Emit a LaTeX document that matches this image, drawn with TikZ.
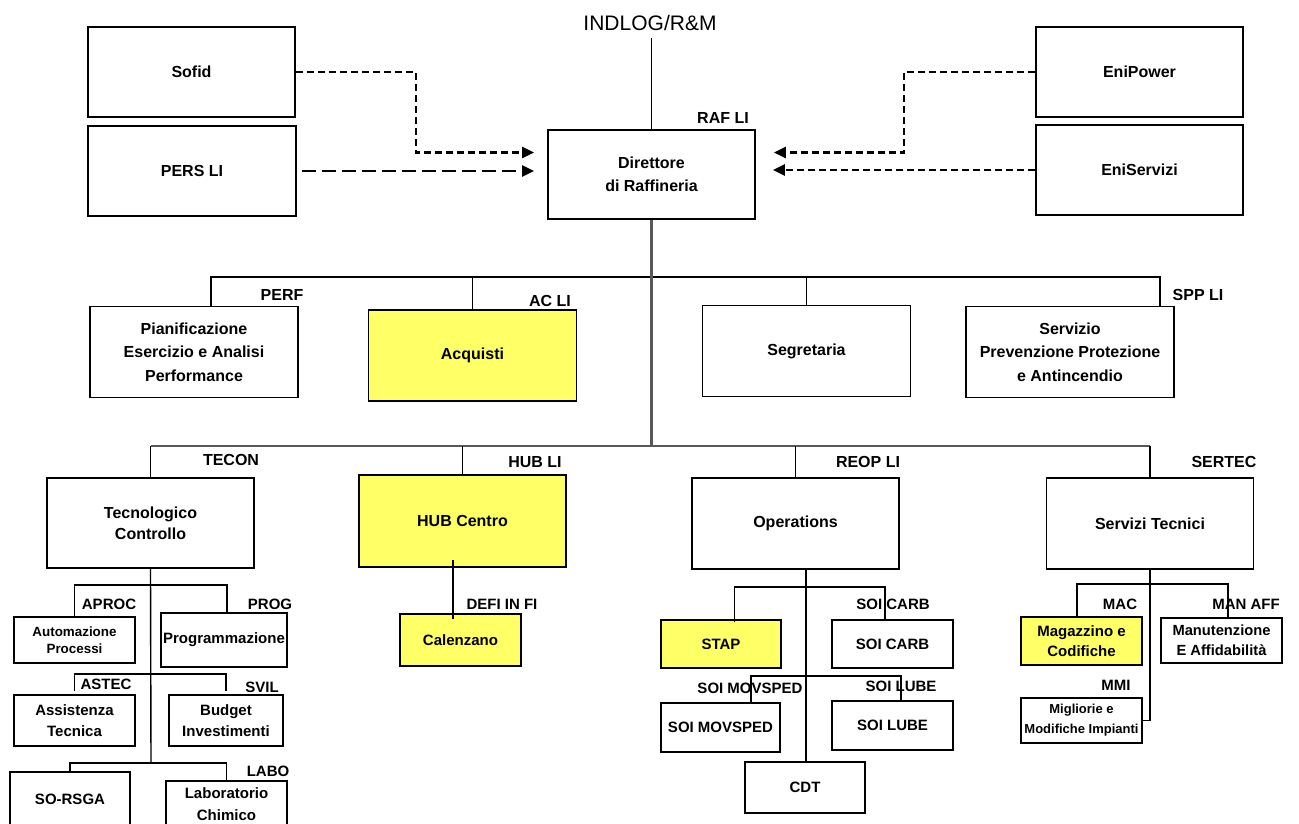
\documentclass[tikz,border=0pt]{standalone}
\usepackage{fontspec}
\setmainfont{Liberation Sans}
\usetikzlibrary{arrows.meta}
\definecolor{boxyellow}{HTML}{FFFF66}
\definecolor{trunkgray}{HTML}{595959}
\tikzstyle{big_box} = [
    rectangle,
    draw=black,
    fill=white,
    line width=1.9pt,
    align=center,
    font=\bfseries\fontsize{16}{23.5}\selectfont,
    inner sep=0pt,
    minimum width=207pt,
    minimum height=90pt
]
\tikzstyle{big_yellow} = [big_box, fill=boxyellow]
\tikzstyle{small_box} = [
    rectangle,
    draw=black,
    fill=white,
    line width=1.9pt,
    align=center,
    font=\bfseries\fontsize{15}{21}\selectfont,
    inner sep=0pt,
    minimum width=121pt,
    minimum height=48pt
]
\tikzstyle{small_yellow} = [small_box, fill=boxyellow]
\tikzstyle{tag} = [font=\bfseries\fontsize{16}{19}\selectfont, inner sep=0pt]
\tikzstyle{small_tag} = [font=\bfseries\fontsize{15}{18}\selectfont, inner sep=0pt]
\tikzstyle{link} = [draw=black, line width=1.4pt]
\tikzstyle{trunk} = [draw=trunkgray, line width=2.2pt]
\tikzstyle{dash_short} = [
    line width=2.8pt,
    dash pattern=on 7pt off 4pt,
    -{Triangle[length=12pt, width=11pt]}
]
\tikzstyle{dash_long} = [
    line width=2.8pt,
    dash pattern=on 14pt off 6pt,
    -{Triangle[length=12pt, width=11pt]}
]

\begin{document}
\begin{tikzpicture}[x=1pt, y=-1pt]
\fill[white] (0,0) rectangle (1299,823);
\useasboundingbox (0,0) rectangle (1299,823);

% top
\node[anchor=base, inner sep=0pt, font=\fontsize{21}{25}\selectfont] (indlog) at (650,30) {INDLOG/R\&M};
\node[big_box, minimum height=89pt] (direttore) at (651.5,174.5) {Direttore\\di Raffineria};
\node[tag] (lbl_raf) at (723,118) {RAF LI};
\node[big_box] (sofid) at (191.5,72) {Sofid};
\node[big_box, minimum width=208pt] (persli) at (192,171) {PERS LI};
\node[big_box] (enipower) at (1139.5,72) {EniPower};
\node[big_box] (eniservizi) at (1139.5,170) {EniServizi};

% staff
\node[big_box, minimum width=208pt, minimum height=91pt] (pianif) at (194,352) {Pianificazione\\Esercizio e Analisi\\Performance};
\node[big_yellow, minimum width=208pt, minimum height=91pt] (acquisti) at (472.5,355.5) {Acquisti};
\node[big_box, minimum width=208pt, minimum height=91pt] (segret) at (806.5,351) {Segretaria};
\node[big_box, minimum width=208pt, minimum height=91pt] (spp) at (1070,352) {Servizio\\Prevenzione Protezione\\e Antincendio};
\node[tag] (lbl_perf) at (282,295) {PERF};
\node[tag] (lbl_acli) at (550,301) {AC LI};
\node[tag] (lbl_spp) at (1198,295) {SPP LI};

% line units
\node[big_box, font=\bfseries\fontsize{16}{21}\selectfont] (tecon) at (150.5,523) {Tecnologico\\Controllo};
\node[big_yellow, minimum height=92pt] (hub) at (462.5,521) {HUB Centro};
\node[big_box, minimum height=91pt] (oper) at (795.5,523.5) {Operations};
\node[big_box, minimum height=91pt] (sertec) at (1150,523.5) {Servizi Tecnici};
\node[tag] (lbl_tecon) at (231,460) {TECON};
\node[tag] (lbl_hub) at (535,462) {HUB LI};
\node[tag] (lbl_reop) at (868,462) {REOP LI};
\node[tag] (lbl_sertec) at (1224,462) {SERTEC};

% tecnologico controllo
\node[small_box, minimum height=46pt, font=\bfseries\fontsize{13.4}{17}\selectfont] (aproc) at (74.5,640) {Automazione\\Processi};
\node[small_box, minimum width=126pt, minimum height=54pt] (prog) at (224,640) {Programmazione};
\node[small_box, minimum height=51pt] (astec) at (74.5,720.5) {Assistenza\\Tecnica};
\node[small_box, minimum width=114pt, minimum height=51pt] (svil) at (226,720.5) {Budget\\Investimenti};
\node[small_box, minimum width=120pt, minimum height=54pt] (sorsga) at (70,799) {SO-RSGA};
\node[small_box, minimum height=46pt, font=\bfseries\fontsize{15}{22}\selectfont] (labo) at (226.5,804) {Laboratorio\\Chimico};
\node[small_tag] (lbl_aproc) at (109,604) {APROC};
\node[small_tag] (lbl_prog) at (270,604) {PROG};
\node[small_tag] (lbl_astec) at (106,684) {ASTEC};
\node[small_tag] (lbl_svil) at (262,687) {SVIL};
\node[small_tag] (lbl_labo) at (268,771) {LABO};

% hub centro
\node[small_yellow, minimum height=52pt] (defi) at (460.5,640) {Calenzano};
\node[small_tag] (lbl_defi) at (502,604) {DEFI IN FI};

% operations
\node[small_yellow, minimum width=120pt] (stap) at (721,644) {STAP};
\node[small_box] (soicarb) at (892.5,644) {SOI CARB};
\node[small_box, minimum width=119pt, minimum height=49pt] (soimovsped) at (720.5,727.5) {SOI MOVSPED};
\node[small_box, minimum height=49pt] (soilube) at (892.5,725.5) {SOI LUBE};
\node[small_box, minimum width=120pt, minimum height=51pt] (cdt) at (805,787.5) {CDT};
\node[small_tag] (lbl_soicarb) at (893,604) {SOI CARB};
\node[small_tag] (lbl_movsped) at (750,688) {SOI MOVSPED};
\node[small_tag] (lbl_lube) at (901,686) {SOI LUBE};

% servizi tecnici
\node[small_yellow, font=\bfseries\fontsize{15}{20}\selectfont] (mac) at (1081.5,641) {Magazzino e\\Codifiche};
\node[small_box, minimum height=45pt, font=\bfseries\fontsize{14.7}{20}\selectfont] (manaff) at (1221.5,640.5) {Manutenzione\\E Affidabilità};
\node[small_box, minimum height=45pt, font=\bfseries\fontsize{13}{20}\selectfont] (mmi) at (1081.5,720.5) {Migliorie e\\Modifiche Impianti};
\node[small_tag] (lbl_mac) at (1120,604) {MAC};
\node[small_tag] (lbl_manaff) at (1246,604) {MAN AFF};
\node[small_tag] (lbl_mmi) at (1116,685) {MMI};

% connectors
\draw[link, shorten <=8pt] (indlog.south -| direttore.north) -- (direttore.north);
\draw[dash_short, shorten >=13pt] (sofid.east) -- ++(120,0) |- ([yshift=22]direttore.west);
\draw[dash_long, shorten <=5pt, shorten >=13pt] (persli.east) -- (persli.east -| direttore.west);
\draw[dash_short, shorten >=18pt] (enipower.west) -- ++(-131,0) |- ([yshift=22]direttore.east);
\draw[dash_short, shorten >=17pt] (eniservizi.west) -- (eniservizi.west -| direttore.east);

\coordinate (bus_top) at (653,277);
\draw[link] ([xshift=17]pianif.north) |- (bus_top) -| ([xshift=90]spp.north);
\draw[link] (acquisti.north) -- (acquisti.north |- bus_top);
\draw[link] (segret.north) -- (segret.north |- bus_top);
\draw[link, line width=2.2pt] (acquisti.north |- bus_top) -- (segret.north |- bus_top);

\coordinate (bus_low) at (653,446);
\draw[trunk] (direttore.south) -- (direttore.south |- bus_low);
\draw[trunk] (tecon.north |- bus_low) -- (sertec.north |- bus_low);
\draw[link] (tecon.north) -- (tecon.north |- bus_low);
\draw[link] (hub.north) -- (hub.north |- bus_low);
\draw[link] (oper.north) -- (oper.north |- bus_low);
\draw[link] (sertec.north) -- (sertec.north |- bus_low);

\coordinate (tc_a) at (151,585);
\coordinate (tc_b) at (151,674);
\coordinate (tc_c) at (151,763);
\draw[link] (tecon.south) -- (tc_c);
\draw[link] (aproc.north) |- (tc_a) -| ([xshift=3]prog.north);
\draw[link] ([yshift=3]astec.north) |- (tc_b) -| ([yshift=3]svil.north);
\draw[link] (sorsga.north) |- (tc_c) -| (labo.north);

\draw[link] ([xshift=-9.5,yshift=8]hub.south) -- ([xshift=-7.5,yshift=-6]defi.north);

\coordinate (op_a) at (806,587);
\coordinate (op_b) at (806,676);
\draw[link] ([xshift=10.5]oper.south) -- ([xshift=1]cdt.north);
\draw[link] ([xshift=13.5,yshift=-3]stap.north) |- (op_a) -| ([xshift=-7.5]soicarb.north);
\draw[link] ([xshift=30.5]soimovsped.north) |- (op_b) -| ([xshift=8.5]soilube.north);

\coordinate (st_a) at (1150,584);
\draw[link] (sertec.south) |- (mmi.east);
\draw[link] ([xshift=-4.5]mac.north) |- (st_a) -| ([xshift=6.5]manaff.north);
\end{tikzpicture}
\end{document}
